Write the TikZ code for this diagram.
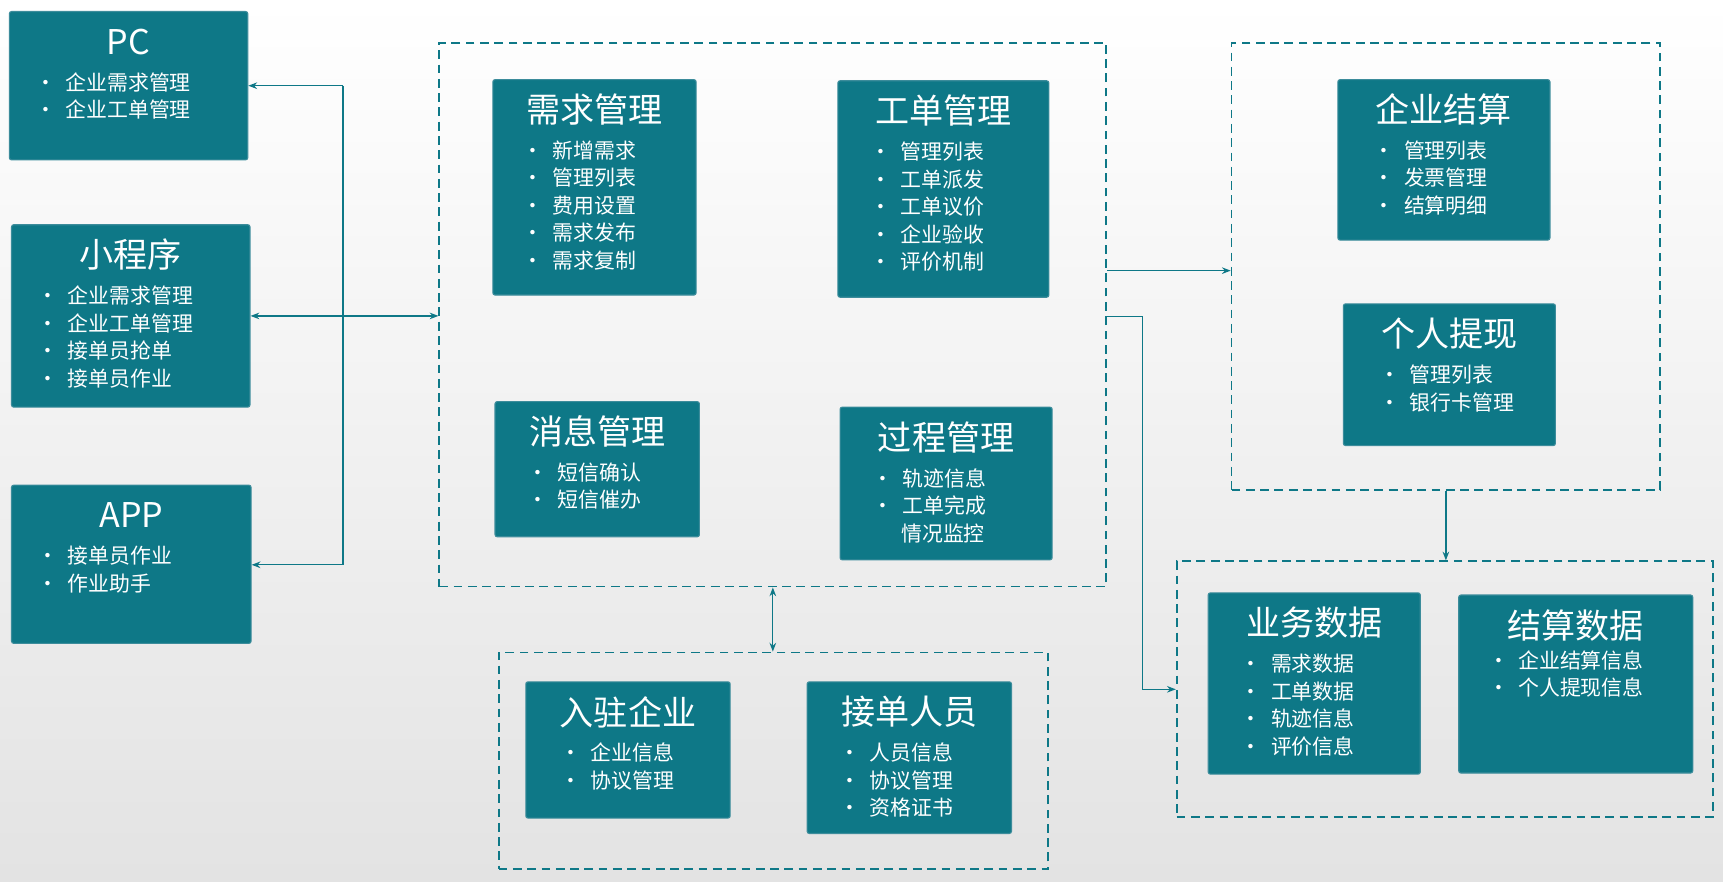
\documentclass[tikz,border=0pt]{standalone}
\usepackage{fontspec}
\setmainfont{Noto Sans CJK SC}
\usetikzlibrary{arrows.meta}
\definecolor{teal1}{RGB}{14,120,135}
\definecolor{teal2}{RGB}{60,140,155}
\tikzset{
  cardbox/.style={draw=teal2, fill=teal1, rounded corners=2pt, line width=1pt, inner sep=0pt, anchor=north west},
  cardtitle/.style={text=white, font=\fontsize{31}{34}\selectfont, inner sep=0pt},
  cardlist/.style={text=white, font=\fontsize{19}{25}\selectfont, align=left, inner sep=0pt, anchor=north west},
  groupbox/.style={draw=teal1, line width=1.6pt, dash pattern=on 8pt off 5pt, inner sep=0pt, anchor=north west},
  arr/.style={draw=teal1, line width=1.2pt, -{Stealth[length=8pt,width=6pt]}},
  biarr/.style={draw=teal1, line width=1.2pt, {Stealth[length=8pt,width=6pt]}-{Stealth[length=8pt,width=6pt]}},
}
% card: name, x1, y1, x2, y2, title, items, list indent
\newcommand{\infocard}[8]{%
  \node[cardbox, minimum width={(#4-#2)*1pt}, minimum height={(#5-#3)*1pt}] (#1) at (#2,#3) {};
  \node[cardtitle] (#1-t) at ([yshift=-28pt]#1.north) {#6};
  \node[cardlist] (#1-l) at ([xshift=#8pt,yshift=-56pt]#1.north west) {#7};
}
\newcommand{\groupframe}[5]{%
  \node[groupbox, minimum width={(#4-#2)*1pt}, minimum height={(#5-#3)*1pt}] (#1) at (#2,#3) {};
}
\begin{document}
\begin{tikzpicture}[x=1pt,y=-1pt]
  \useasboundingbox (0,0) rectangle (1568,802);
  \path[top color=white, bottom color=gray!22] (0,0) rectangle (1568,802);

  % clients
  \infocard{pc}{8}{10}{225}{145}{PC}{• \ 企业需求管理\\• \ 企业工单管理}{24}
  \infocard{mini}{10}{204}{227}{370}{小程序}{• \ 企业需求管理\\• \ 企业工单管理\\• \ 接单员抢单\\• \ 接单员作业}{24}
  \infocard{app}{10}{441}{228}{585}{APP}{• \ 接单员作业\\• \ 作业助手}{24}

  % core
  \groupframe{core}{399}{38}{1006}{533}
  \infocard{demand}{448}{72}{633}{268}{需求管理}{• \ 新增需求\\• \ 管理列表\\• \ 费用设置\\• \ 需求发布\\• \ 需求复制}{27}
  \infocard{order}{762}{73}{954}{270}{工单管理}{• \ 管理列表\\• \ 工单派发\\• \ 工单议价\\• \ 企业验收\\• \ 评价机制}{30}
  \infocard{msg}{450}{365}{636}{488}{消息管理}{• \ 短信确认\\• \ 短信催办}{30}
  \infocard{proc}{764}{370}{957}{509}{过程管理}{• \ 轨迹信息\\• \ 工单完成\\\hspace{26pt}情况监控}{30}

  % settlement
  \groupframe{settle}{1120}{38}{1510}{445}
  \infocard{corp}{1217}{72}{1410}{218}{企业结算}{• \ 管理列表\\• \ 发票管理\\• \ 结算明细}{33}
  \infocard{cash}{1222}{276}{1415}{405}{个人提现}{• \ 管理列表\\• \ 银行卡管理}{33}

  % data
  \groupframe{data}{1070}{510}{1558}{743}
  \infocard{biz}{1099}{539}{1292}{704}{业务数据}{• \ 需求数据\\• \ 工单数据\\• \ 轨迹信息\\• \ 评价信息}{30}
  \infocard{sdata}{1327}{541}{1540}{703}{结算数据}{\\[-14pt]• \ 企业结算信息\\• \ 个人提现信息}{27}

  % people
  \groupframe{people}{453}{593}{953}{790}
  \infocard{firm}{478}{620}{664}{744}{入驻企业}{• \ 企业信息\\• \ 协议管理}{32}
  \infocard{staff}{734}{620}{920}{758}{接单人员}{• \ 人员信息\\• \ 协议管理\\• \ 资格证书}{30}

  % connectors
  \coordinate (bustop) at (312,78);
  \coordinate (busbot) at (312,514);
  \draw[draw=teal1, line width=1.2pt] (bustop) -- (busbot);
  \draw[arr] (bustop) -- (pc.east |- bustop);
  \draw[arr] (busbot) -- (app.east |- busbot);
  \draw[biarr] (mini.east) -- (core.west |- mini.east);
  \draw[arr] ([yshift=40pt]core.east) -- ([yshift=40pt]core.east -| settle.west);
  \draw[arr] ([yshift=-2pt]core.east) -- ++(32,0) |- (data.west);
  \draw[arr] (settle.south) -- (settle.south |- data.north);
  \draw[biarr] (core.south) -- (core.south |- people.north);
\end{tikzpicture}
\end{document}
